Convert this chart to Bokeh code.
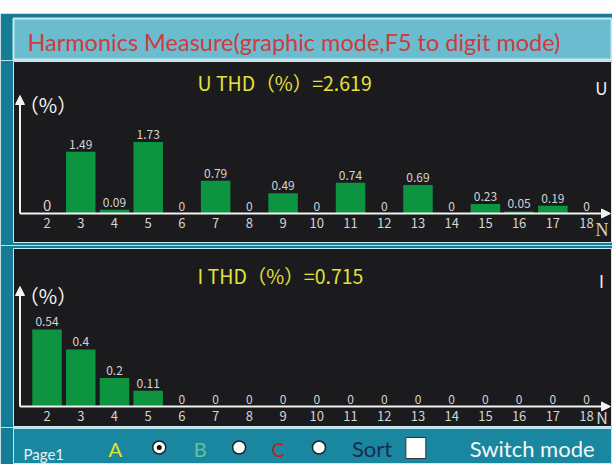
from bokeh.plotting import figure
from bokeh.layouts import column
from bokeh.models import (ColumnDataSource, Label, LabelSet, Arrow, NormalHead, Range1d, Spacer)
from bokeh.core.properties import value, field
from bokeh.embed import file_html
from bokeh.resources import INLINE

# ---------------- data ----------------
harmonics = list(range(2, 19))
tick_labels = [str(h) for h in harmonics]
u_values = [0, 1.49, 0.09, 1.73, 0, 0.79, 0, 0.49, 0, 0.74, 0, 0.69, 0, 0.23, 0.05, 0.19, 0]
i_values = [0.54, 0.4, 0.2, 0.11, 0, 0, 0, 0, 0, 0, 0, 0, 0, 0, 0, 0, 0]
u_thd = "2.619"
i_thd = "0.715"
screen_title = "Harmonics Measure(graphic mode,F5 to digit mode)"
footer_page = "Page1"
phases = ["A", "B", "C"]
sort_text = "Sort"
switch_text = "Switch mode"

# ---------------- styles ----------------
TEAL = "#157c95"
HEADER = "#6bbccf"
LIGHT = "#c4e9f1"
PANEL = "#1b1b1d"
FOOT = "#1a87a1"
GREEN = "#0d9440"
YELLOW = "#e3e23a"
WHITE = "#f2f2f2"
GREY = "#d4d4d4"
CJK = "Noto Sans CJK SC"

W = 612
PAD = 8                  # white page strip on the left
X_SLOPE = 33.72          # px per harmonic order
X_REF = 303.3            # px (inside panel frame) of order 10


def base_fig(height, xr, yr, left, top, bottom, bg, outline_w):
    p = figure(width=W, height=height, output_backend="svg", toolbar_location=None,
               x_range=xr, y_range=yr, x_axis_location=None, y_axis_location=None,
               min_border_left=left + PAD, min_border_right=0, min_border_top=top,
               min_border_bottom=bottom, background_fill_color=bg,
               border_fill_color=TEAL, outline_line_color=LIGHT,
               outline_line_width=outline_w)
    p.xgrid.grid_line_color = None
    p.ygrid.grid_line_color = None
    return p


def lab(p, x, y, text, color, size, font=CJK, align="center"):
    p.add_layout(Label(x=x, y=y, text=text, text_align=align, text_baseline="middle",
                       text_color=color, text_font=font, text_font_size=size))


def panel(values, thd, name, height, top, bottom, frame_h, base_px, ppu, tip_px,
          big_first, n_font, n_dy, n_size):
    # frame is 599 px wide; base_px = distance of zero line from the frame top
    x0 = 10 - X_REF / X_SLOPE
    x1 = 10 + (599 - X_REF) / X_SLOPE
    y0 = -(frame_h - base_px) / ppu
    y1 = base_px / ppu
    p = base_fig(height, Range1d(x0, x1), Range1d(y0, y1), 5, top, bottom, PANEL, 1)

    labels = [f"{v:g}" for v in values]
    sizes = ["15px" if (big_first and k == 0) else "12px" for k in range(len(values))]
    src = ColumnDataSource(dict(h=harmonics, v=values, lbl=labels, sz=sizes,
                                zero=[0] * len(harmonics), tick=tick_labels))
    p.vbar(x="h", top="v", bottom=0, width=0.875, source=src,
           fill_color=GREEN, line_color=None)

    # axes (white lines with arrow heads)
    ax = 10 + (6.5 - X_REF) / X_SLOPE
    head = dict(size=9, fill_color=WHITE, line_color=WHITE)
    p.add_layout(Arrow(end=NormalHead(**head), x_start=ax, y_start=0,
                       x_end=10 + (597 - X_REF) / X_SLOPE, y_end=0,
                       line_color=WHITE, line_width=2))
    p.add_layout(Arrow(end=NormalHead(**head), x_start=ax, y_start=0,
                       x_end=ax, y_end=(base_px - tip_px) / ppu,
                       line_color=WHITE, line_width=2))
    # tick labels
    p.add_layout(LabelSet(x="h", y="zero", text="tick", source=src, y_offset=-4,
                          text_align="center", text_baseline="top",
                          text_color=GREY, text_font=value(CJK),
                          text_font_size="13px"))
    # value labels
    p.add_layout(LabelSet(x="h", y="v", text="lbl", source=src, y_offset=3,
                          text_align="center", text_baseline="bottom",
                          text_color=GREY, text_font=value(CJK),
                          text_font_size=field("sz")))

    def px(fx, fy):  # frame-pixel -> data
        return 10 + (fx - X_REF) / X_SLOPE, (base_px - fy) / ppu

    lab(p, *px(184, base_px - 131), name + " THD（%）=" + thd, YELLOW, "19.5px", align="left")
    lab(p, *px(34.5, tip_px + 9), "（%）", WHITE, "20px")
    lab(p, *px(588, base_px - 126), name, WHITE, "17px")
    lab(p, *px(588.5, base_px + n_dy), "N", GREY, n_size, font=n_font)
    return p


# top panel: frame page y 61..242, zero line at page 213, arrow tip at page 95
top = panel(u_values, u_thd, "U", 185, 1, 3, 181, 152, 41.4, 34, True,
            "Liberation Serif", 16, "18px")
# bottom panel: frame page y 248..426, zero line at page 406, arrow tip at page 286
bot = panel(i_values, i_thd, "I", 182, 3, 1, 178, 158, 142.6, 38, False,
            CJK, 10, "16px")

# ---------------- header ----------------
head = base_fig(47, Range1d(0, 601), Range1d(0, 41), 3, 5, 1, HEADER, 2)
lab(head, 14, 18, screen_title, "#cf3a3c", "23.5px", font="Lato", align="left")

# ---------------- footer ----------------
foot = base_fig(37, Range1d(0, 600), Range1d(0, 36), 4, 1, 0, FOOT, 1)
lab(foot, 10, 11, footer_page, "#e8f3f6", "15px", font="Lato", align="left")
phase_colors = ["#e6e42a", "#5fc795", "#b8232a"]
phase_x = [102, 187, 265]
radio_x = [146, 226, 306]
for t, c, pxx in zip(phases, phase_colors, phase_x):
    lab(foot, pxx, 16, t, c, "20px", font="Lato")
foot.scatter(x=radio_x, y=[17, 17, 17], size=13, marker="circle",
             fill_color="white", line_color="#222222", line_width=1.5)
foot.scatter(x=radio_x[:1], y=[17], size=5, marker="circle",
             fill_color="#111111", line_color=None)
lab(foot, 339, 16, sort_text, "#1d2a4f", "22px", font="Lato", align="left")
foot.quad(left=[393], right=[413], bottom=[6], top=[27], fill_color="white",
          line_color="#333333", line_width=1)
lab(foot, 457, 16, switch_text, "#f2f7f8", "22px", font="Lato", align="left")

layout = column(Spacer(width=W, height=13), head, top, bot, foot, spacing=0)

open("out.html", "w").write(file_html(layout, INLINE))
